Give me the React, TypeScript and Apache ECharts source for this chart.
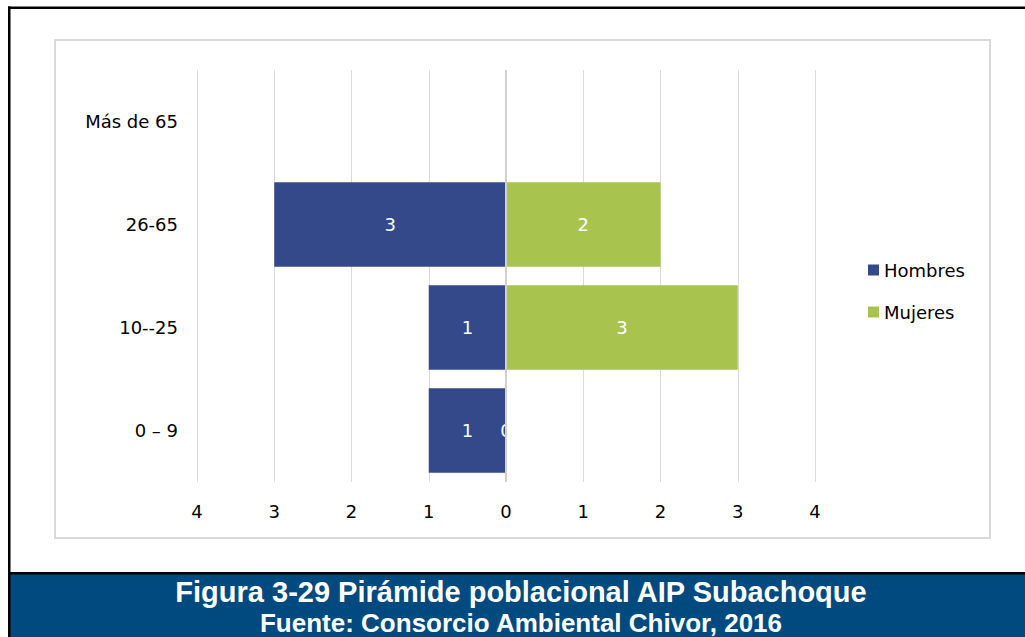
import React, { useEffect, useRef } from "react";
import * as echarts from "echarts";

const categories = ["0 – 9", "10--25", "26-65", "Más de 65"];
const hombres = [1, 1, 3, 0];
const mujeres = [0, 3, 2, 0];
const xTicks = [-4, -3, -2, -1, 0, 1, 2, 3, 4];
const titleLine1 = "Figura 3-29 Pirámide poblacional AIP Subachoque";
const titleLine2 = "Fuente: Consorcio Ambiental Chivor, 2016";

const chartFont = "'DejaVu Sans', sans-serif";

export default function App() {
  const ref = useRef<HTMLDivElement>(null);
  useEffect(() => {
    if (!ref.current) return;
    const chart = echarts.init(ref.current, null, { renderer: "svg" });
    const labelCfg = {
      show: true,
      position: "inside",
      color: "#ffffff",
      fontFamily: chartFont,
      fontSize: 18,
      formatter: (p: any) => String(Math.abs(p.value)),
    };
    chart.setOption({
      animation: false,
      backgroundColor: "#ffffff",
      graphic: [
        { type: "rect", shape: { x: 55, y: 40, width: 935, height: 498 }, style: { fill: "none", stroke: "#d9d9d9", lineWidth: 2 }, z: -10 },
        { type: "rect", shape: { x: 8, y: 573, width: 1020, height: 64 }, style: { fill: "#004a7f" }, z: 10 },
        { type: "rect", shape: { x: 8, y: 572, width: 1020, height: 2.5 }, style: { fill: "#000000" }, z: 11 },
        { type: "rect", shape: { x: 8, y: 6.5, width: 1020, height: 2.5 }, style: { fill: "#000000" }, z: 11 },
        { type: "rect", shape: { x: 8, y: 6.5, width: 2.5, height: 640 }, style: { fill: "#000000" }, z: 11 },
        {
          type: "text", x: 521, y: 592, z: 12,
          style: { text: titleLine1, fill: "#ffffff", font: "bold 29px 'Liberation Sans', Arial, sans-serif", align: "center", verticalAlign: "middle" },
        },
        {
          type: "text", x: 521, y: 623, z: 12,
          style: { text: titleLine2, fill: "#ffffff", font: "bold 26px 'Liberation Sans', Arial, sans-serif", align: "center", verticalAlign: "middle" },
        },
      ],
      legend: {
        orient: "vertical",
        left: 863,
        top: 256,
        itemWidth: 11,
        itemHeight: 11,
        itemGap: 24,
        icon: "rect",
        textStyle: { fontFamily: chartFont, fontSize: 18, color: "#000000" },
        data: ["Hombres", "Mujeres"],
      },
      grid: { left: 197, right: 210, top: 70, height: 412, containLabel: false },
      xAxis: {
        type: "value",
        min: -4,
        max: 4,
        interval: 1,
        axisLine: { show: false },
        axisTick: { show: false },
        splitLine: { show: true, lineStyle: { color: "#d9d9d9", width: 1 } },
        axisLabel: {
          margin: 20,
          fontFamily: chartFont,
          fontSize: 18,
          color: "#000000",
          customValues: xTicks,
          formatter: (v: number) => String(Math.abs(v)),
        },
      },
      yAxis: {
        type: "category",
        data: categories,
        axisLine: { show: false },
        axisTick: { show: false },
        axisLabel: { margin: 19, fontFamily: chartFont, fontSize: 18, color: "#000000" },
      },
      series: [
        {
          name: "Hombres",
          type: "bar",
          data: hombres.map((v) => -v),
          barGap: "-100%",
          barCategoryGap: "18%",
          itemStyle: { color: "#34498a" },
          label: labelCfg,
          markLine: {
            silent: true,
            symbol: "none",
            label: { show: false },
            lineStyle: { color: "#d0d0d0", width: 2, type: "solid" },
            data: [{ xAxis: 0 }],
          },
        },
        {
          name: "Mujeres",
          type: "bar",
          data: mujeres,
          barGap: "-100%",
          barCategoryGap: "18%",
          itemStyle: { color: "#a9c34f" },
          label: labelCfg,
        },
      ],
    });
    return () => chart.dispose();
  }, []);
  return (
    <div
      ref={ref}
      style={{ position: "absolute", left: 0, top: 0, width: 1025, height: 637 }}
    />
  );
}
